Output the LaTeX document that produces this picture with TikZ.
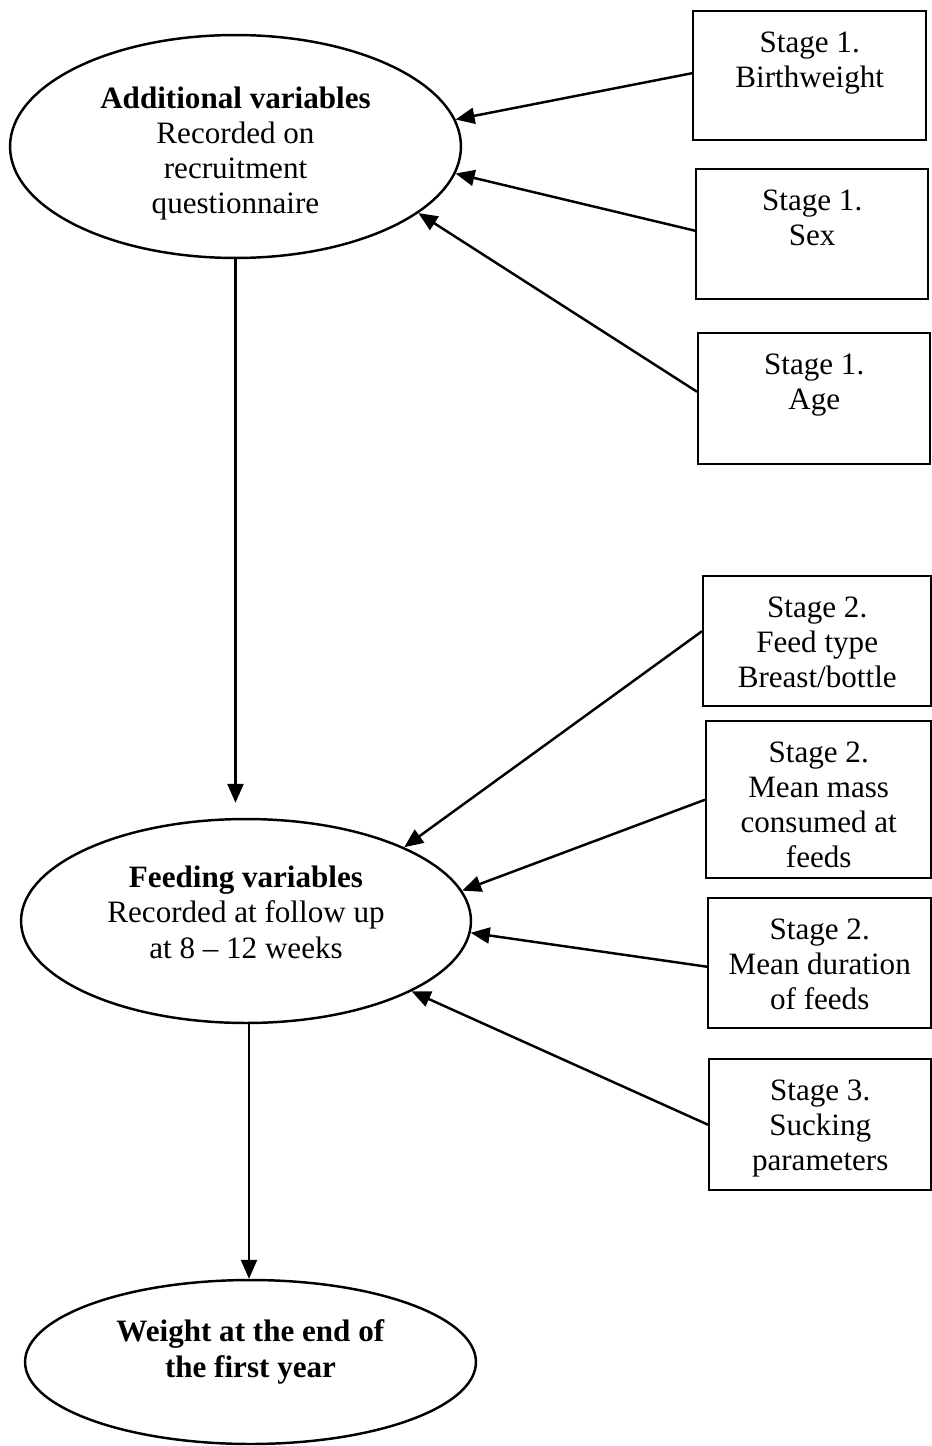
\documentclass[tikz,border=0pt]{standalone}
\usepackage{fontspec}
\setmainfont{Liberation Serif}
\usetikzlibrary{shapes.geometric, arrows.meta, positioning}
\newcommand{\stagetext}[3]{\begin{minipage}[t][#2][t]{#1}\vspace*{0.41cm}\centering #3\end{minipage}}

\begin{document}
\begin{tikzpicture}[x=0.02cm, y=-0.02cm]
    % Define styles
    \tikzstyle{variables} = [ellipse, draw, line width=1.4pt, inner sep=0pt, align=center, text depth=0.2cm, font=\fontsize{17.7}{20}\selectfont]
    \tikzstyle{stagebox} = [rectangle, draw, line width=1.4pt, inner sep=0pt, anchor=north west, font=\fontsize{17.7}{20}\selectfont]
    \tikzstyle{arr} = [-{Triangle[length=0.38cm, width=0.32cm]}, line width=1.4pt]

    \useasboundingbox (0,0) rectangle (932,1446);

    % Variable groups
    \node[variables, minimum width=9.02cm, minimum height=4.46cm, text height=2.90cm] (addvar) at (235.5, 146.5) {\textbf{Additional variables}\\Recorded on\\recruitment\\questionnaire};
    \node[variables, minimum width=9.0cm, minimum height=4.08cm, text height=1.68cm] (feedvar) at (246, 921) {\textbf{Feeding variables}\\Recorded at follow up\\at 8 -- 12 weeks};
    \node[variables, minimum width=9.02cm, minimum height=3.28cm, text height=0.80cm] (weight) at (250.5, 1362) {\textbf{Weight at the end of}\\\textbf{the first year}};

    % Stage 1 boxes
    \node[stagebox] (bweight) at (692, 10) {\stagetext{4.66cm}{2.58cm}{Stage 1.\\Birthweight}};
    \node[stagebox] (sex) at (695, 168) {\stagetext{4.64cm}{2.60cm}{Stage 1.\\Sex}};
    \node[stagebox] (age) at (697, 332) {\stagetext{4.64cm}{2.62cm}{Stage 1.\\Age}};

    % Stage 2 and 3 boxes
    \node[stagebox] (feedtype) at (702, 575) {\stagetext{4.56cm}{2.60cm}{Stage 2.\\Feed type\\Breast/bottle}};
    \node[stagebox] (mass) at (705, 720) {\stagetext{4.50cm}{3.14cm}{Stage 2.\\Mean mass\\consumed at\\feeds}};
    \node[stagebox] (duration) at (707, 897) {\stagetext{4.46cm}{2.60cm}{Stage 2.\\Mean duration\\of feeds}};
    \node[stagebox] (sucking) at (708, 1058) {\stagetext{4.44cm}{2.62cm}{Stage 3.\\Sucking\\parameters}};

    % Arrows into additional variables
    \draw[arr] ([yshift=0.05cm]bweight.west) -- (addvar.7);
    \draw[arr] ([yshift=0.07cm]sex.west) -- (addvar.-7);
    \draw[arr] ([yshift=0.14cm]age.west) -- (addvar.-20);

    % Arrows into feeding variables
    \draw[arr] ([yshift=0.2cm]feedtype.west) -- (feedvar.25);
    \draw[arr] (mass.west) -- (feedvar.8);
    \draw[arr] ([yshift=-0.07cm]duration.west) -- (feedvar.-3);
    \draw[arr] (sucking.west) -- (feedvar.-23);

    % Main chain
    \draw[arr, shorten >=0.3cm] (addvar.south) -- (addvar.south |- feedvar.north);
    \draw[arr] ([xshift=0.06cm]feedvar.south) -- ([xshift=0.06cm]feedvar.south |- weight.north);

\end{tikzpicture}
\end{document}
